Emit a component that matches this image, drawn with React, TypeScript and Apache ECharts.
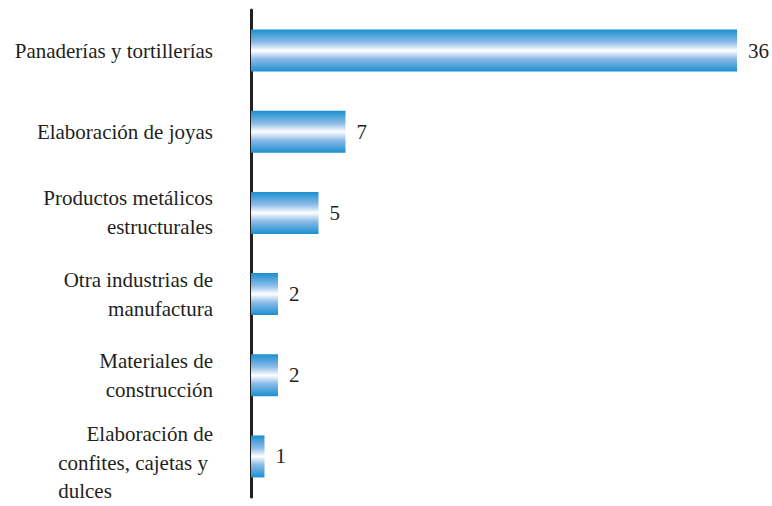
import React, { useEffect, useRef } from "react";
import * as echarts from "echarts";

const categories = [
  "Panaderías y tortillerías",
  "Elaboración de joyas",
  "Productos metálicos\nestructurales",
  "Otra industrias de\nmanufactura",
  "Materiales de\nconstrucción",
  "Elaboración de\nconfites, cajetas y\ndulces",
];
const values = [36, 7, 5, 2, 2, 1];
// labels whose first line is right-aligned and the rest left-aligned
const indentedLabels = ["Elaboración de\nconfites, cajetas y\ndulces"];

const FONT = "'Liberation Serif', 'Times New Roman', serif";
const TEXT = "#231f20";
const FS = 21;
const LH = 29;

export default function App() {
  const ref = useRef<HTMLDivElement>(null);
  useEffect(() => {
    if (!ref.current) return;
    const chart = echarts.init(ref.current, undefined, { renderer: "svg" });
    const grad = new echarts.graphic.LinearGradient(0, 0, 0, 1, [
      { offset: 0, color: "#1a8fd0" },
      { offset: 0.3, color: "#8cbbe8" },
      { offset: 0.5, color: "#ffffff" },
      { offset: 0.7, color: "#8cbbe8" },
      { offset: 1, color: "#1a8fd0" },
    ]);
    chart.setOption({
      animation: false,
      backgroundColor: "#ffffff",
      grid: {
        left: 251,
        right: 35,
        top: 10,
        bottom: 9,
        containLabel: false,
        outerBoundsMode: "none",
      },
      xAxis: {
        type: "value",
        min: 0,
        max: 36,
        show: false,
      },
      yAxis: {
        type: "category",
        inverse: true,
        data: categories,
        axisLine: { show: true, lineStyle: { color: "#231f20", width: 3 } },
        axisTick: { show: false },
        axisLabel: {
          interval: 0,
          hideOverlap: false,
          showMinLabel: true,
          showMaxLabel: true,
          margin: 38,
          color: TEXT,
          fontFamily: FONT,
          fontSize: FS,
          lineHeight: LH,
          align: "right",
          formatter: (v: string) => {
            if (indentedLabels.includes(v)) {
              const lines = v.split("\n");
              return (
                "{sp| }\n" +
                lines.map((l, i) => (i === 0 ? `{r|${l}}` : `{l|${l}}`)).join("\n")
              );
            }
            return v;
          },
          rich: {
            sp: { fontFamily: FONT, fontSize: 8, lineHeight: 12, color: TEXT },
            r: { align: "right", fontFamily: FONT, fontSize: FS, lineHeight: LH, color: TEXT },
            l: {
              align: "left",
              fontFamily: FONT,
              fontSize: FS,
              lineHeight: 28,
              color: TEXT,
              padding: [0, 5, 0, 0],
            },
          },
        },
      },
      series: [
        {
          type: "bar",
          data: values,
          barWidth: 42,
          itemStyle: { color: grad },
          label: {
            show: true,
            position: "right",
            distance: 11,
            color: TEXT,
            fontFamily: FONT,
            fontSize: 21,
          },
        },
      ],
    });
    return () => chart.dispose();
  }, []);
  return <div ref={ref} style={{ width: 772, height: 506, position: "fixed", left: 0, top: 0 }} />;
}
